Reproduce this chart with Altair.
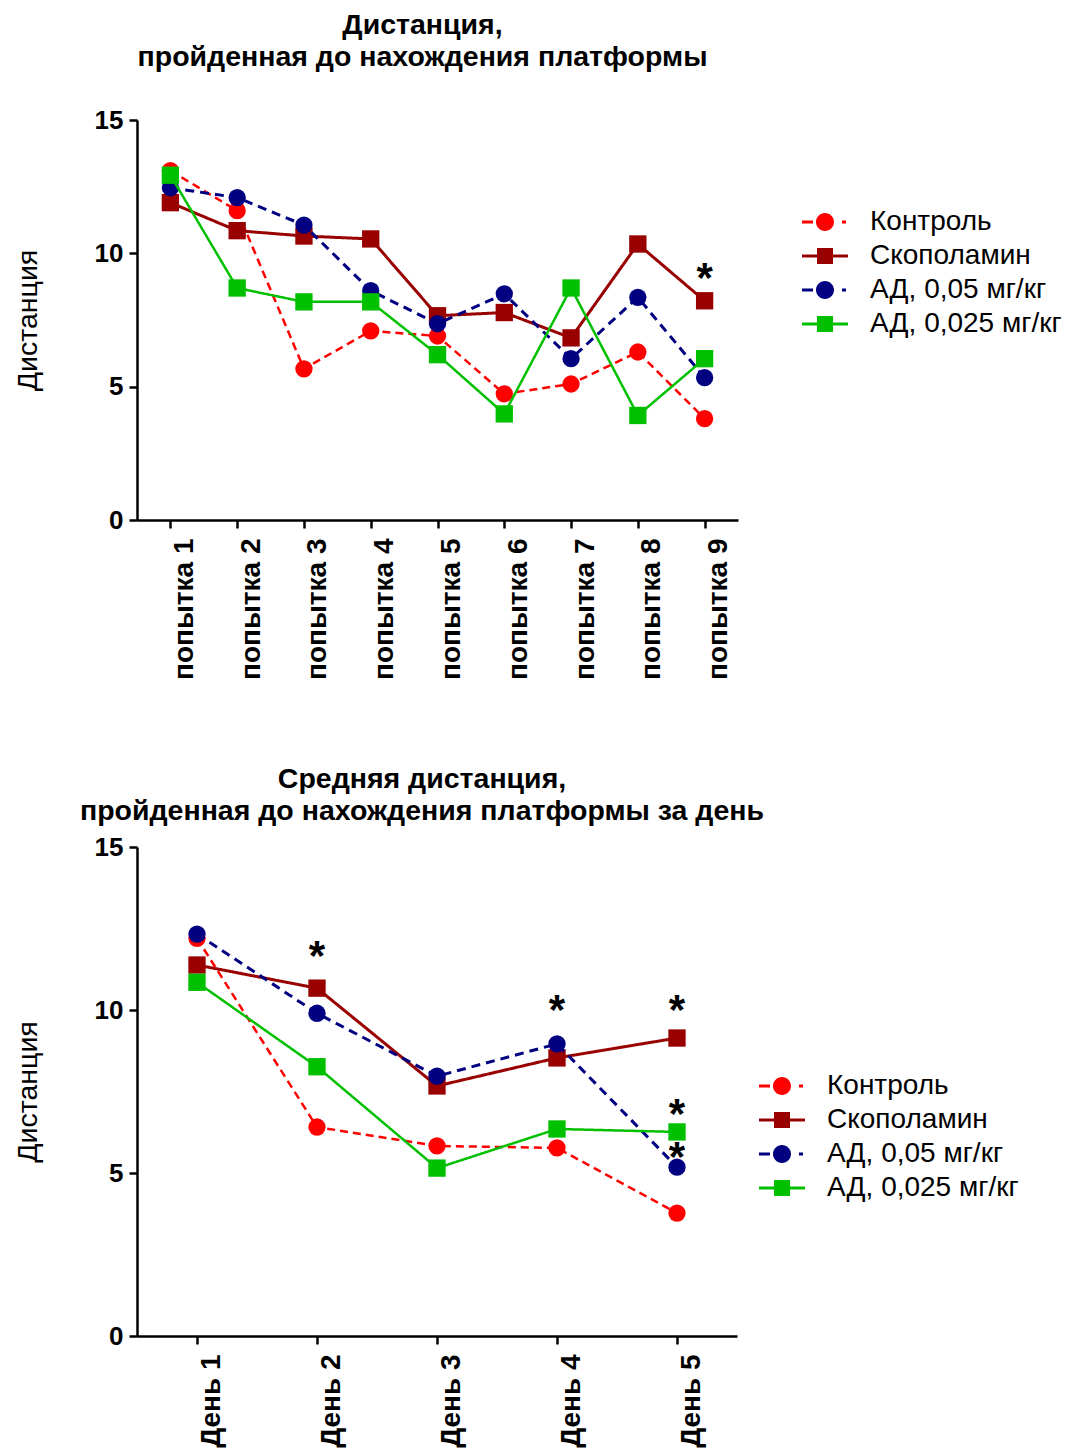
import altair as alt
import pandas as pd

# ---------------- data ----------------
series = ["Контроль", "Скополамин", "АД, 0,05 мг/кг", "АД, 0,025 мг/кг"]
colors = ["#ff0000", "#990000", "#000080", "#00c000"]
markers = ["circle", "square", "circle", "square"]
dashes = [[8, 5], [1, 0], [9, 6], [1, 0]]
widths = [2.5, 3, 3, 2.5]

trials = ["попытка 1", "попытка 2", "попытка 3", "попытка 4", "попытка 5",
          "попытка 6", "попытка 7", "попытка 8", "попытка 9"]
trial_control = [13.1, 11.6, 5.67, 7.09, 6.9, 4.73, 5.1, 6.3, 3.8]
trial_scop = [11.9, 10.85, 10.65, 10.54, 7.66, 7.78, 6.83, 10.35, 8.22]
trial_ad05 = [12.46, 12.09, 11.06, 8.6, 7.36, 8.48, 6.05, 8.35, 5.34]
trial_ad025 = [12.93, 8.7, 8.18, 8.18, 6.2, 3.98, 8.7, 3.92, 6.05]
trial_star_x = ["попытка 9"]
trial_star_y = [9.28]

days = ["День 1", "День 2", "День 3", "День 4", "День 5"]
day_control = [12.2, 6.41, 5.83, 5.77, 3.77]
day_scop = [11.38, 10.67, 7.67, 8.53, 9.14]
day_ad05 = [12.33, 9.9, 7.97, 8.96, 5.18]
day_ad025 = [10.85, 8.26, 5.15, 6.35, 6.26]
day_star_x = ["День 2", "День 4", "День 5", "День 5", "День 5"]
day_star_y = [11.8, 10.15, 10.15, 6.95, 5.64]

title_top = ["Дистанция,", "пройденная до нахождения платформы"]
title_bottom = ["Средняя дистанция,", "пройденная до нахождения платформы за день"]
y_title = "Дистанция"

# legend symbols: marker with line segment (custom SVG paths; 1 unit = 14 px)
CIRCLE = "M-0.643,0A0.643,0.643 0 1,0 0.643,0A0.643,0.643 0 1,0 -0.643,0Z"
path_dash_circle = ("M-1.643,-0.107H-0.857V0.107H-1.643Z M1.214,-0.107H1.5V0.107H1.214Z "
                    + CIRCLE)
path_line_square = ("M-1.643,-0.107H-0.571V-0.571H0.571V-0.107H1.643V0.107H0.571V0.571"
                    "H-0.571V0.107H-1.643Z")
legend_paths = [path_dash_circle, path_line_square, path_dash_circle, path_line_square]

FONT = "Liberation Sans"


def panel(cats, values_list, star_x, star_y, title, width, height, lx, ly, xfield, title_offset):
    rows = []
    for s, vals in zip(series, values_list):
        for c, v in zip(cats, vals):
            rows.append({xfield: c, "value": v, "series": s})
    df = pd.DataFrame(rows)
    stars = pd.DataFrame({xfield: star_x, "value": star_y})

    x = alt.X(f"{xfield}:N", sort=cats, title=None,
              axis=alt.Axis(labelAngle=270, labelBaseline="top", labelAlign="right",
                            labelPadding=10, labelFontSize=28))
    y = alt.Y("value:Q", scale=alt.Scale(domain=[0, 15], nice=False, zero=True),
              axis=alt.Axis(values=[0, 5, 10, 15], title=y_title, titleFontSize=28.5,
                            titleFontWeight="normal", titlePadding=52, labelPadding=6,
                            labelFontSize=26))

    base = alt.Chart(df)
    layers = []
    for s, col, mk, ds, w in zip(series, colors, markers, dashes, widths):
        sub = base.transform_filter(alt.datum.series == s)
        layers.append(sub.mark_line(color=col, strokeDash=ds, strokeWidth=w).encode(x=x, y=y))
        layers.append(sub.mark_point(shape=mk, filled=True, color=col, size=300, opacity=1)
                      .encode(x=x, y=y))

    leg = alt.Legend(title=None, orient="none", legendX=lx, legendY=ly,
                     symbolSize=784, symbolOpacity=1, symbolStrokeWidth=0,
                     labelFontSize=28, labelFont=FONT, labelColor="black",
                     labelOffset=31, rowPadding=6, labelLimit=400)
    legend_layer = base.mark_point(filled=True, opacity=0).encode(
        x=x, y=y,
        color=alt.Color("series:N", scale=alt.Scale(domain=series, range=colors), legend=leg),
        shape=alt.Shape("series:N", scale=alt.Scale(domain=series, range=legend_paths), legend=leg),
    )
    layers.append(legend_layer)

    star_layer = alt.Chart(stars).mark_text(
        text="*", font=FONT, fontSize=42, fontWeight="bold", color="black",
        baseline="alphabetic", dy=19
    ).encode(x=x, y=y)
    layers.append(star_layer)

    return alt.layer(*layers).properties(
        width=width, height=height,
        title=alt.TitleParams(title, fontSize=28.5, font=FONT, fontWeight="bold",
                              anchor="middle", frame="group", offset=title_offset,
                              lineHeight=32, dx=-15, color="black"),
    )


top = panel(cats=trials,
            values_list=[trial_control, trial_scop, trial_ad05, trial_ad025],
            star_x=trial_star_x, star_y=trial_star_y, title=title_top,
            width=601, height=400, lx=674, ly=88, xfield="trial", title_offset=36)
bottom = panel(cats=days,
               values_list=[day_control, day_scop, day_ad05, day_ad025],
               star_x=day_star_x, star_y=day_star_y, title=title_bottom,
               width=600, height=489, lx=631, ly=225, xfield="day", title_offset=9)

chart = alt.vconcat(top, bottom, spacing=84).resolve_scale(
    color="independent", shape="independent", x="independent", y="independent"
).resolve_legend(color="independent", shape="independent").configure_view(
    stroke=None
).configure_axis(
    domainColor="black", domainWidth=2.5, tickColor="black", tickWidth=2.5, tickSize=8,
    labelFont=FONT, labelFontWeight="bold", labelColor="black", titleFont=FONT,
    titleColor="black", grid=False
).properties(padding={"left": 5, "top": 2, "right": 0, "bottom": 0})

chart.save("out.html", embed_options={"renderer": "svg", "actions": False})
